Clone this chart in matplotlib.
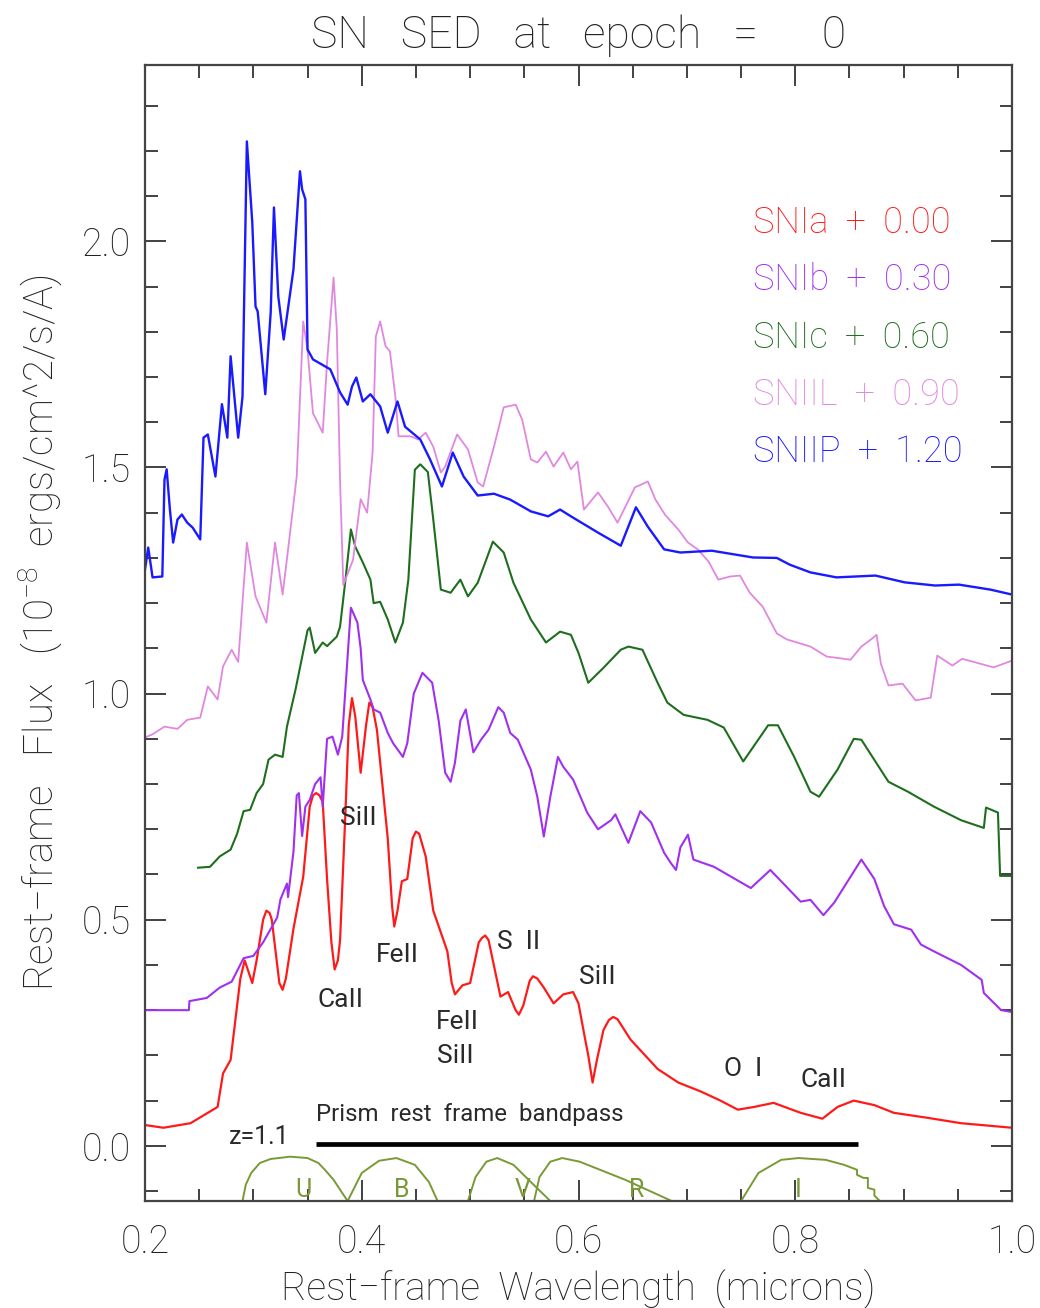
import matplotlib
matplotlib.use("Agg")
import matplotlib.pyplot as plt
from matplotlib.ticker import MultipleLocator, FormatStrFormatter

plt.rcParams["font.family"] = ["Roboto", "DejaVu Sans"]
plt.rcParams["font.weight"] = "light"
plt.rcParams["axes.titleweight"] = "light"
plt.rcParams["axes.labelweight"] = "light"
plt.rcParams["mathtext.fontset"] = "custom"
plt.rcParams["mathtext.rm"] = "Roboto:light"
plt.rcParams["mathtext.it"] = "Roboto:light"

# wavelength (microns) / flux with offset already added
ia_wave = [0.200, 0.217, 0.242, 0.267, 0.272, 0.279, 0.288, 0.292, 0.299, 0.303, 0.309, 0.312,
           0.315, 0.317, 0.324, 0.327, 0.330, 0.337, 0.346, 0.352, 0.355, 0.358, 0.361, 0.364,
           0.368, 0.372, 0.375, 0.378, 0.380, 0.385, 0.388, 0.391, 0.394, 0.399, 0.404, 0.407,
           0.410, 0.414, 0.424, 0.428, 0.430, 0.433, 0.437, 0.442, 0.447, 0.450, 0.453, 0.459,
           0.466, 0.479, 0.483, 0.486, 0.493, 0.500, 0.508, 0.511, 0.514, 0.517, 0.528, 0.535,
           0.542, 0.545, 0.549, 0.555, 0.558, 0.562, 0.568, 0.577, 0.586, 0.595, 0.600, 0.605,
           0.609, 0.613, 0.617, 0.623, 0.628, 0.632, 0.636, 0.648, 0.673, 0.692, 0.713, 0.731,
           0.747, 0.762, 0.780, 0.805, 0.825, 0.839, 0.854, 0.873, 0.891, 0.922, 0.953, 1.000]
ia_flux = [0.046, 0.040, 0.050, 0.086, 0.160, 0.190, 0.370, 0.410, 0.360, 0.410, 0.500, 0.520,
           0.515, 0.500, 0.360, 0.345, 0.370, 0.480, 0.595, 0.750, 0.775, 0.780, 0.775, 0.760,
           0.590, 0.450, 0.390, 0.410, 0.455, 0.740, 0.930, 0.990, 0.950, 0.825, 0.930, 0.980,
           0.970, 0.920, 0.680, 0.530, 0.485, 0.520, 0.585, 0.590, 0.680, 0.695, 0.690, 0.640,
           0.520, 0.430, 0.360, 0.335, 0.355, 0.360, 0.450, 0.460, 0.465, 0.455, 0.330, 0.340,
           0.300, 0.290, 0.310, 0.365, 0.375, 0.370, 0.350, 0.315, 0.335, 0.340, 0.315, 0.250,
           0.200, 0.140, 0.190, 0.256, 0.278, 0.285, 0.280, 0.235, 0.170, 0.140, 0.120, 0.100,
           0.080, 0.086, 0.095, 0.073, 0.060, 0.086, 0.100, 0.090, 0.073, 0.062, 0.050, 0.040]

ib_wave = [0.200, 0.2405, 0.241, 0.257, 0.269, 0.280, 0.291, 0.300, 0.309, 0.322, 0.325, 0.331,
           0.332, 0.337, 0.340, 0.342, 0.345, 0.348, 0.352, 0.357, 0.362, 0.364, 0.368, 0.373,
           0.378, 0.382, 0.390, 0.396, 0.399, 0.401, 0.408, 0.411, 0.417, 0.424, 0.429, 0.438,
           0.442, 0.448, 0.456, 0.465, 0.471, 0.477, 0.482, 0.486, 0.491, 0.496, 0.503, 0.510,
           0.517, 0.526, 0.531, 0.537, 0.544, 0.556, 0.562, 0.568, 0.574, 0.581, 0.586, 0.595,
           0.608, 0.618, 0.630, 0.634, 0.646, 0.657, 0.667, 0.679, 0.685, 0.690, 0.694, 0.701,
           0.706, 0.725, 0.759, 0.777, 0.805, 0.814, 0.826, 0.836, 0.861, 0.873, 0.882, 0.891,
           0.907, 0.916, 0.928, 0.953, 0.972, 0.974, 0.990, 1.000]
ib_flux = [0.300, 0.300, 0.320, 0.327, 0.350, 0.363, 0.415, 0.420, 0.450, 0.505, 0.545, 0.580,
           0.550, 0.650, 0.775, 0.780, 0.685, 0.750, 0.765, 0.800, 0.815, 0.750, 0.900, 0.905,
           0.865, 0.905, 1.190, 1.157, 1.100, 1.030, 0.987, 0.965, 0.958, 0.913, 0.890, 0.860,
           0.890, 1.000, 1.046, 1.024, 0.940, 0.825, 0.805, 0.847, 0.940, 0.965, 0.870, 0.898,
           0.920, 0.970, 0.958, 0.913, 0.898, 0.832, 0.772, 0.684, 0.772, 0.860, 0.838, 0.810,
           0.737, 0.700, 0.720, 0.733, 0.670, 0.740, 0.715, 0.648, 0.626, 0.610, 0.660, 0.688,
           0.633, 0.617, 0.570, 0.610, 0.540, 0.544, 0.510, 0.538, 0.633, 0.590, 0.530, 0.490,
           0.478, 0.445, 0.430, 0.400, 0.367, 0.338, 0.300, 0.296]

ic_wave = [0.249, 0.260, 0.269, 0.279, 0.285, 0.291, 0.297, 0.303, 0.309, 0.314, 0.320, 0.327,
           0.331, 0.339, 0.350, 0.352, 0.357, 0.364, 0.368, 0.377, 0.380, 0.385, 0.390, 0.394,
           0.397, 0.401, 0.408, 0.411, 0.417, 0.424, 0.431, 0.438, 0.443, 0.449, 0.454, 0.461,
           0.466, 0.473, 0.482, 0.491, 0.498, 0.507, 0.521, 0.531, 0.540, 0.556, 0.570, 0.583,
           0.593, 0.600, 0.609, 0.623, 0.639, 0.646, 0.659, 0.673, 0.682, 0.697, 0.719, 0.734,
           0.752, 0.775, 0.784, 0.799, 0.814, 0.822, 0.839, 0.854, 0.861, 0.886, 0.904, 0.928,
           0.953, 0.974, 0.976, 0.987, 0.989, 1.000]
ic_flux = [0.615, 0.617, 0.640, 0.655, 0.690, 0.740, 0.743, 0.780, 0.800, 0.854, 0.865, 0.860,
           0.927, 1.010, 1.140, 1.146, 1.090, 1.113, 1.105, 1.126, 1.148, 1.252, 1.363, 1.325,
           1.310, 1.290, 1.252, 1.200, 1.203, 1.164, 1.113, 1.157, 1.252, 1.495, 1.507, 1.490,
           1.385, 1.230, 1.223, 1.252, 1.215, 1.245, 1.336, 1.312, 1.245, 1.164, 1.113, 1.137,
           1.130, 1.090, 1.024, 1.057, 1.097, 1.104, 1.097, 1.024, 0.980, 0.953, 0.942, 0.925,
           0.850, 0.930, 0.930, 0.860, 0.783, 0.772, 0.832, 0.900, 0.898, 0.805, 0.783, 0.750,
           0.720, 0.703, 0.748, 0.737, 0.597, 0.597]

iil_wave = [0.200, 0.207, 0.218, 0.230, 0.239, 0.251, 0.258, 0.267, 0.272, 0.280, 0.286, 0.294,
            0.302, 0.312, 0.320, 0.327, 0.332, 0.340, 0.346, 0.350, 0.355, 0.364, 0.368, 0.374,
            0.377, 0.380, 0.383, 0.392, 0.399, 0.405, 0.410, 0.413, 0.417, 0.422, 0.426, 0.431,
            0.434, 0.445, 0.452, 0.459, 0.466, 0.473, 0.477, 0.488, 0.498, 0.507, 0.512, 0.522,
            0.531, 0.542, 0.548, 0.556, 0.562, 0.570, 0.577, 0.586, 0.593, 0.599, 0.605, 0.618,
            0.627, 0.636, 0.642, 0.652, 0.664, 0.671, 0.680, 0.692, 0.701, 0.710, 0.720, 0.729,
            0.740, 0.749, 0.758, 0.770, 0.783, 0.792, 0.814, 0.829, 0.851, 0.861, 0.870, 0.875,
            0.879, 0.886, 0.899, 0.911, 0.925, 0.931, 0.945, 0.954, 0.983, 1.000]
iil_flux = [0.903, 0.910, 0.927, 0.922, 0.942, 0.947, 1.016, 0.987, 1.060, 1.097, 1.070, 1.334,
            1.215, 1.157, 1.334, 1.219, 1.318, 1.480, 1.823, 1.760, 1.620, 1.577, 1.732, 1.920,
            1.805, 1.470, 1.240, 1.296, 1.430, 1.400, 1.533, 1.790, 1.823, 1.768, 1.757, 1.657,
            1.569, 1.569, 1.562, 1.577, 1.546, 1.489, 1.502, 1.573, 1.540, 1.467, 1.458, 1.546,
            1.633, 1.639, 1.606, 1.518, 1.511, 1.535, 1.502, 1.533, 1.496, 1.513, 1.407, 1.445,
            1.414, 1.378, 1.407, 1.456, 1.469, 1.429, 1.395, 1.363, 1.334, 1.319, 1.292, 1.252,
            1.259, 1.261, 1.223, 1.192, 1.133, 1.120, 1.104, 1.082, 1.075, 1.104, 1.120, 1.130,
            1.066, 1.018, 1.022, 0.985, 0.991, 1.084, 1.062, 1.077, 1.058, 1.073]

iip_wave = [0.200, 0.203, 0.207, 0.216, 0.218, 0.220, 0.223, 0.226, 0.230, 0.234, 0.239, 0.244,
            0.251, 0.254, 0.258, 0.265, 0.271, 0.276, 0.279, 0.286, 0.290, 0.294, 0.299, 0.302,
            0.304, 0.311, 0.316, 0.319, 0.323, 0.328, 0.337, 0.343, 0.345, 0.348, 0.350, 0.355,
            0.371, 0.380, 0.387, 0.391, 0.395, 0.401, 0.408, 0.417, 0.424, 0.433, 0.440, 0.454,
            0.463, 0.474, 0.484, 0.494, 0.507, 0.522, 0.537, 0.556, 0.572, 0.583, 0.593, 0.618,
            0.639, 0.653, 0.664, 0.679, 0.694, 0.723, 0.761, 0.783, 0.795, 0.814, 0.838, 0.874,
            0.901, 0.929, 0.951, 0.980, 1.000]
iip_flux = [1.274, 1.323, 1.257, 1.259, 1.473, 1.496, 1.407, 1.334, 1.385, 1.396, 1.378, 1.367,
            1.341, 1.566, 1.573, 1.480, 1.640, 1.566, 1.746, 1.566, 1.657, 2.221, 2.042, 1.856,
            1.845, 1.662, 1.843, 2.075, 1.878, 1.783, 1.938, 2.155, 2.115, 2.093, 1.761, 1.739,
            1.717, 1.666, 1.639, 1.679, 1.699, 1.646, 1.662, 1.635, 1.577, 1.646, 1.590, 1.562,
            1.518, 1.458, 1.533, 1.480, 1.438, 1.442, 1.429, 1.403, 1.392, 1.407, 1.392, 1.356,
            1.327, 1.412, 1.369, 1.319, 1.312, 1.316, 1.301, 1.300, 1.285, 1.268, 1.257, 1.261,
            1.246, 1.239, 1.241, 1.230, 1.219]

sn_names = ["SNIa", "SNIb", "SNIc", "SNIIL", "SNIIP"]
sn_offsets = [0.00, 0.30, 0.60, 0.90, 1.20]

# broadband filter curves drawn along the bottom
u_wave = [0.290, 0.293, 0.298, 0.306, 0.316, 0.334, 0.350, 0.360, 0.366, 0.374, 0.380, 0.387]
u_resp = [-0.122, -0.086, -0.060, -0.038, -0.029, -0.024, -0.027, -0.038, -0.053, -0.075, -0.097, -0.122]
b_wave = [0.387, 0.400, 0.416, 0.432, 0.449, 0.462, 0.470]
b_resp = [-0.122, -0.060, -0.033, -0.027, -0.042, -0.080, -0.122]
v_wave = [0.498, 0.505, 0.515, 0.525, 0.540, 0.556, 0.574]
v_resp = [-0.122, -0.069, -0.035, -0.027, -0.042, -0.080, -0.122]
r_wave = [0.559, 0.564, 0.574, 0.585, 0.601, 0.643, 0.686]
r_resp = [-0.122, -0.069, -0.035, -0.027, -0.035, -0.075, -0.122]
i_wave = [0.750, 0.766, 0.787, 0.803, 0.828, 0.845, 0.857, 0.857, 0.863, 0.867, 0.867, 0.873, 0.873, 0.878]
i_resp = [-0.122, -0.060, -0.031, -0.027, -0.031, -0.042, -0.053, -0.064, -0.071, -0.071, -0.093, -0.097, -0.110, -0.122]
filter_names = ["U", "B", "V", "R", "I"]
filter_label_x = [0.346, 0.437, 0.548, 0.654, 0.803]

line_ids = ["SiII", "CaII", "FeII", "FeII", "SiII", "S  II", "SiII", "O  I", "CaII"]
line_id_x = [0.397, 0.380, 0.433, 0.488, 0.486, 0.545, 0.617, 0.752, 0.826]
line_id_y = [0.726, 0.323, 0.423, 0.274, 0.199, 0.451, 0.374, 0.170, 0.146]

prism_band = [0.358, 0.858]


def main() -> None:
    fig = plt.figure(figsize=(10.4, 13.08), dpi=100)
    ax = fig.add_axes([0.1394, 0.0818, 0.8337, 0.8685])

    colors = ["#ff1a1a", "#a030f0", "#1e6e1e", "#e088e0", "#1a1aff"]
    widths = [1.6, 1.5, 1.5, 1.3, 1.7]
    waves = [ia_wave, ib_wave, ic_wave, iil_wave, iip_wave]
    fluxes = [ia_flux, ib_flux, ic_flux, iil_flux, iip_flux]
    for w, f, c, lw in zip(waves, fluxes, colors, widths):
        ax.plot(w, f, color=c, lw=lw, solid_joinstyle="round")

    olive = "#789a36"
    for w, r in [(u_wave, u_resp), (b_wave, b_resp), (v_wave, v_resp), (r_wave, r_resp), (i_wave, i_resp)]:
        ax.plot(w, r, color=olive, lw=1.4)
    for name, x in zip(filter_names, filter_label_x):
        ax.text(x, -0.098, name, color=olive, fontsize=18, fontweight="normal",
                ha="center", va="center")

    ink = "#2a2a2a"
    # prism rest-frame bandpass at z=1.1
    ax.plot(prism_band, [0.005, 0.005], color="black", lw=3.4, solid_capstyle="butt")
    ax.text(0.277, 0.019, "z=1.1", fontsize=18, color=ink, fontweight="normal",
            ha="left", va="center")
    ax.text(0.358, 0.070, "Prism  rest  frame  bandpass", fontsize=17.3, color=ink,
            fontweight="normal", ha="left", va="center")

    for label, x, y in zip(line_ids, line_id_x, line_id_y):
        ax.text(x, y, label, fontsize=19, color=ink, fontweight="normal", ha="center", va="center")

    for i, (name, off) in enumerate(zip(sn_names, sn_offsets)):
        ax.text(0.761, 2.04 - 0.1263 * i, f"{name}  +  {off:.2f}", color=colors[i],
                fontsize=26, ha="left", va="center")

    ax.set_xlim(0.2, 1.0)
    ax.set_ylim(-0.122, 2.39)
    ax.xaxis.set_major_locator(MultipleLocator(0.2))
    ax.xaxis.set_minor_locator(MultipleLocator(0.05))
    ax.yaxis.set_major_locator(MultipleLocator(0.5))
    ax.yaxis.set_minor_locator(MultipleLocator(0.1))
    ax.xaxis.set_major_formatter(FormatStrFormatter("%.1f"))
    ax.yaxis.set_major_formatter(FormatStrFormatter("%.1f"))
    ax.tick_params(which="both", direction="in", top=True, right=True, colors="#333333",
                   width=1.3, labelsize=27, labelcolor="#222222")
    ax.tick_params(which="major", length=15)
    ax.tick_params(which="minor", length=9)
    ax.tick_params(axis="x", which="major", pad=16)
    ax.tick_params(axis="y", which="major", pad=10)
    for s in ax.spines.values():
        s.set_linewidth(1.6)
        s.set_color("#444444")

    ax.set_xlabel("Rest\u2212frame  Wavelength  (microns)", fontsize=28, color="#222222", labelpad=6)
    ax.set_ylabel("Rest\u2212frame   Flux   (10$^{-8}$  ergs/cm^2/s/A)", fontsize=29,
                  color="#222222", labelpad=12)
    ax.set_title("SN   SED   at   epoch   =      0", fontsize=32, color="#222222", pad=12)

    fig.savefig("out.png", dpi=100)
    plt.close(fig)


if __name__ == "__main__":
    main()
